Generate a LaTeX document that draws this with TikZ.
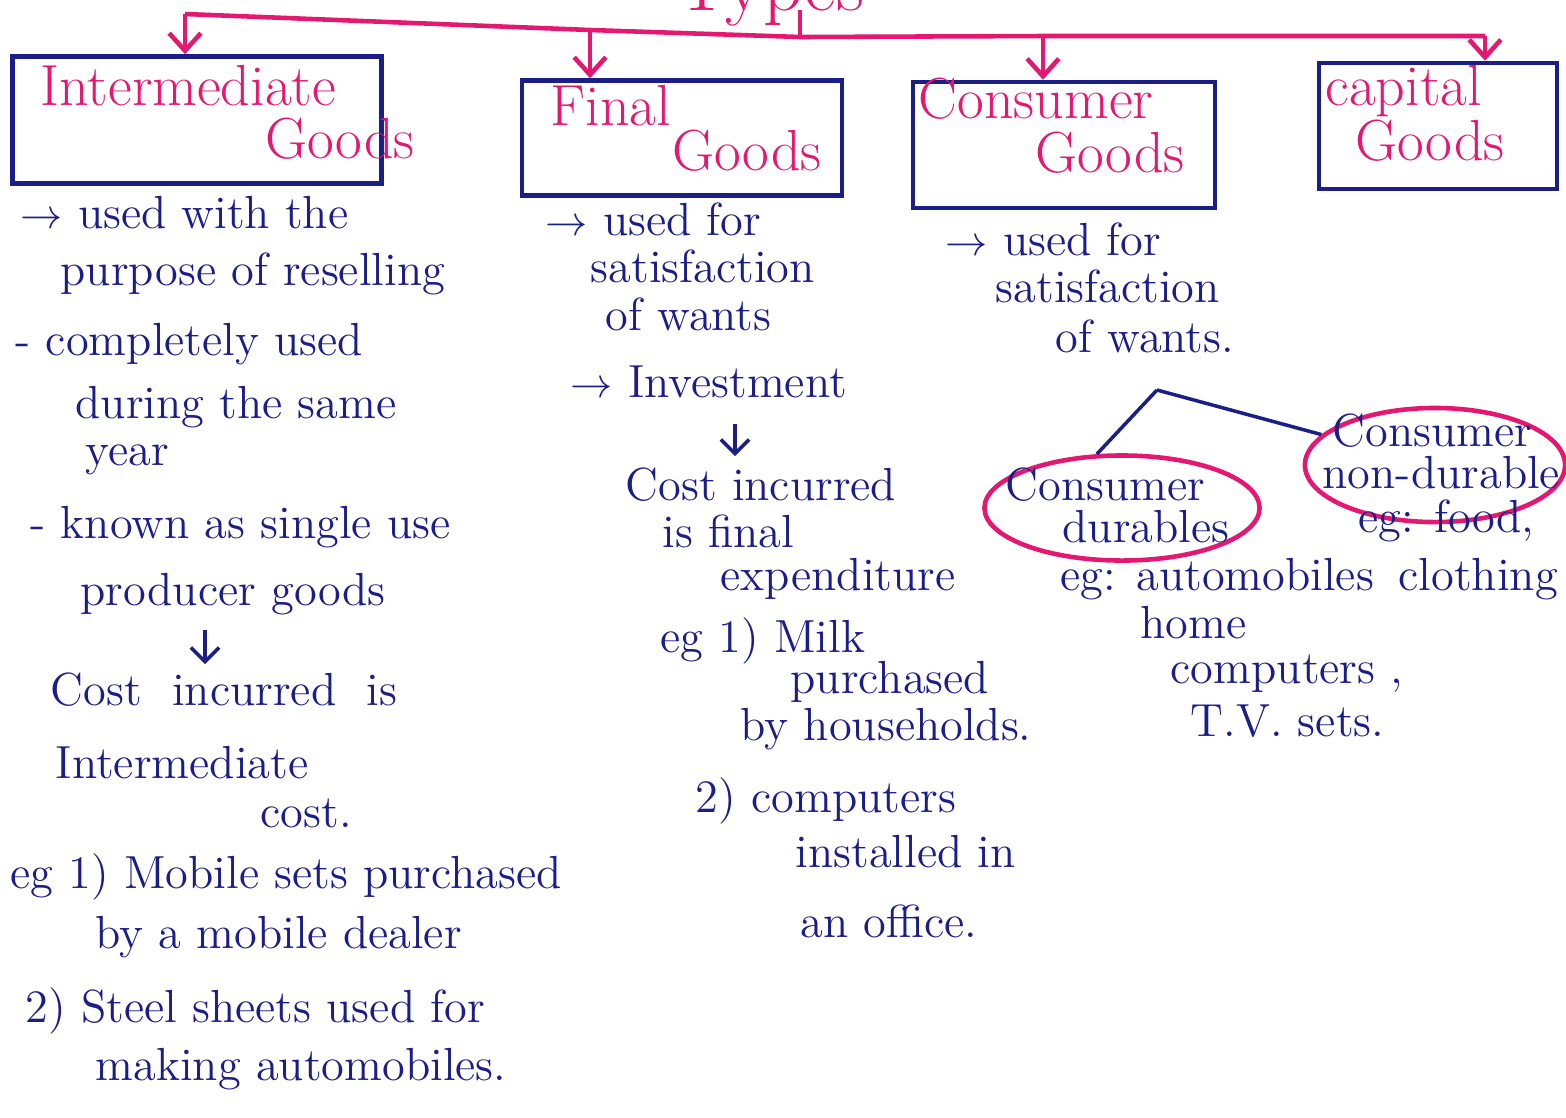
\documentclass[tikz,border=0pt]{standalone}
\usepackage{tikz}
\usetikzlibrary{shapes,arrows.meta}
\definecolor{inkblue}{RGB}{28,30,135}
\definecolor{inkpink}{RGB}{228,24,112}

\begin{document}
\begin{tikzpicture}[
  x=0.01cm, y=-0.01cm,
  mytext/.style={anchor=base west,inner sep=0pt,text=inkblue,font=\fontsize{13.2}{16}\selectfont},
  myhead/.style={anchor=base west,inner sep=0pt,text=inkpink,font=\fontsize{16.5}{19}\selectfont},
  mybox/.style={draw=inkblue,line width=1.3pt},
  myoval/.style={draw=inkpink,ellipse,line width=1.3pt},
  pinkline/.style={draw=inkpink,line width=1.3pt},
  pinkarrow/.style={pinkline,-{Straight Barb[length=5pt,width=9pt]}},
  inkline/.style={draw=inkblue,line width=1pt},
  inkarrow/.style={inkline,-{Straight Barb[length=4pt,width=8pt]}}
]
\useasboundingbox[fill=white] (0,0) rectangle (1566,1117);

\node[text=inkpink,font=\fontsize{22}{24}\selectfont,anchor=base,inner sep=0pt] (title) at (770,10) {Types};
\coordinate (stub) at (800,10);
\coordinate (join) at (800,37);
\coordinate (t1) at (185,14);
\coordinate (t2) at (590,30);
\coordinate (t3) at (1043,36);
\coordinate (t4) at (1485,36);
\draw[pinkline] (t1) -- (t2) -- (join) -- (t3) -- (t4);
\draw[pinkline] (stub) -- (join);

\node[mybox,minimum width=3.69cm,minimum height=1.27cm] (inter) at (197,120) {};
\node[mybox,minimum width=3.2cm,minimum height=1.15cm] (final) at (682,138) {};
\node[mybox,minimum width=3.02cm,minimum height=1.26cm] (cons) at (1064,145) {};
\node[mybox,minimum width=2.38cm,minimum height=1.26cm] (cap) at (1438,126) {};
\draw[pinkarrow] (t1) -- (t1 |- inter.north);
\draw[pinkarrow] (t2) -- (t2 |- final.north);
\draw[pinkarrow] (t3) -- (t3 |- cons.north);
\draw[pinkarrow] (t4) -- (t4 |- cap.north);

\node[myhead] (h1a) at (40,105) {Intermediate};
\node[myhead] (h1b) at (265,158) {Goods};
\node[myhead] (h2a) at (550,125) {Final};
\node[myhead] (h2b) at (672,170) {Goods};
\node[myhead] (h3a) at (918,118) {Consumer};
\node[myhead] (h3b) at (1035,172) {Goods};
\node[myhead] (h4a) at (1325,105) {capital};
\node[myhead] (h4b) at (1355,160) {Goods};

\node[mytext] (c1a) at (20,228) {$\rightarrow$ used with the};
\node[mytext] (c1b) at (60,285) {purpose of reselling};
\node[mytext] (c1c) at (15,355) {- completely used};
\node[mytext] (c1d) at (75,418) {during the same};
\node[mytext] (c1e) at (85,465) {year};
\node[mytext] (c1f) at (30,538) {- known as single use};
\node[mytext] (c1g) at (80,605) {producer goods};
\coordinate (a1) at (205,630);
\coordinate (b1) at (205,664);
\draw[inkarrow] (a1) -- (b1);
\node[mytext] (c1h) at (50,705) {Cost \ incurred \ is};
\node[mytext] (c1i) at (55,778) {Intermediate};
\node[mytext] (c1j) at (260,827) {cost.};
\node[mytext] (c1k) at (10,888) {eg 1) Mobile sets purchased};
\node[mytext] (c1l) at (95,948) {by a mobile dealer};
\node[mytext] (c1m) at (25,1022) {2) Steel sheets used for};
\node[mytext] (c1n) at (95,1080) {making automobiles.};

\node[mytext] (c2a) at (545,235) {$\rightarrow$ used for};
\node[mytext] (c2b) at (590,282) {satisfaction};
\node[mytext] (c2c) at (605,330) {of wants};
\node[mytext] (c2d) at (570,397) {$\rightarrow$ Investment};
\coordinate (a2) at (735,424);
\coordinate (b2) at (735,456);
\draw[inkarrow] (a2) -- (b2);
\node[mytext] (c2e) at (625,500) {Cost incurred};
\node[mytext] (c2f) at (662,547) {is final};
\node[mytext] (c2g) at (720,590) {expenditure};
\node[mytext] (c2h) at (660,652) {eg 1) Milk};
\node[mytext] (c2i) at (790,693) {purchased};
\node[mytext] (c2j) at (740,740) {by households.};
\node[mytext] (c2k) at (695,812) {2) computers};
\node[mytext] (c2l) at (795,867) {installed in};
\node[mytext] (c2m) at (800,937) {an office.};

\node[mytext] (c3a) at (945,255) {$\rightarrow$ used for};
\node[mytext] (c3b) at (995,302) {satisfaction};
\node[mytext] (c3c) at (1055,352) {of wants.};
\coordinate (split) at (1157,390);
\node[myoval,minimum width=2.75cm,minimum height=1.05cm] (dur) at (1122,508) {};
\node[myoval,minimum width=2.6cm,minimum height=1.14cm] (nondur) at (1435,465) {};
\draw[inkline] (split) -- (dur.115);
\draw[inkline] (split) -- (nondur.165);
\node[mytext] (d1) at (1005,500) {Consumer};
\node[mytext] (d2) at (1062,542) {durables};
\node[mytext] (n1) at (1332,446) {Consumer};
\node[mytext] (n2) at (1322,488) {non-durable};
\node[mytext] (n3) at (1358,532) {eg: food,};
\node[mytext] (n4) at (1398,590) {clothing};
\node[mytext] (d3) at (1060,590) {eg: automobiles};
\node[mytext] (d4) at (1140,638) {home};
\node[mytext] (d5) at (1170,683) {computers ,};
\node[mytext] (d6) at (1190,736) {T.V. sets.};
\end{tikzpicture}
\end{document}
